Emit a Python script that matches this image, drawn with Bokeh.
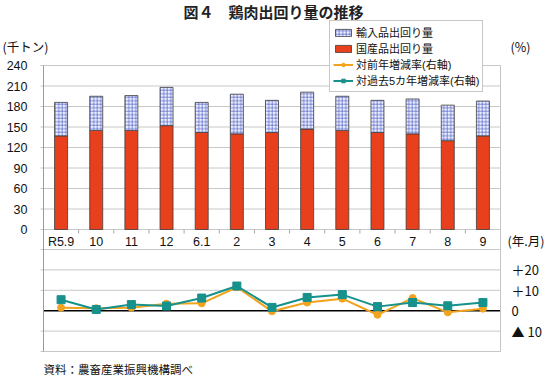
from bokeh.plotting import figure
from bokeh.models import Range1d, ColumnDataSource, Label, Legend, LegendItem
from bokeh.core.properties import value
from bokeh.embed import file_html
from bokeh.resources import INLINE

# ---------------- data ----------------
months = ["R5.9", "10", "11", "12", "6.1", "2", "3", "4", "5", "6", "7", "8", "9"]
domestic = [137, 145, 145, 152, 142, 140, 142, 147, 145, 142, 140, 130, 137]
imported = [49, 50, 51, 56, 44, 58, 47, 54, 50, 47, 51, 52, 51]
yoy_pct = [1.5, 1.2, 1.5, 3.4, 3.6, 11.5, -0.3, 4.0, 5.9, -2.0, 6.2, -0.8, 1.0]
vs5yr_pct = [5.4, 0.6, 3.0, 2.3, 6.2, 12.1, 1.6, 6.5, 7.9, 2.0, 4.0, 2.4, 4.0]
left_ticks = [0, 30, 60, 90, 120, 150, 180, 210, 240]
left_tick_labels = [str(t) for t in left_ticks]
right_ticks = [20, 10, 0, -10]
right_tick_labels = ["＋20", "＋10", "0", "▲ 10"]
pct_grid = [30, 20, 10, -10, -20]

# ---------------- layout (pixels of the 550x376 page) ----------------
W, H = 550, 376
PLOT_L, PLOT_R = 43, 500          # plot area left / right edges
ZERO_PX, TOP_PX = 229, 65         # y of 0 and of 240 (upper chart)
PCT_TOP_PX, PCT_BOT_PX = 249, 351 # y of +30 and -20 (lower chart)

JP = "Noto Sans CJK JP"
NUM = "Liberation Sans"
TXT = "#111111"

n = len(months)
cat_w = (PLOT_R - PLOT_L) / n
k = (ZERO_PX - TOP_PX) / left_ticks[-1]
kp = (PCT_BOT_PX - PCT_TOP_PX) / (pct_grid[0] - pct_grid[-1])
pct_zero_px = PCT_TOP_PX + pct_grid[0] * kp


def dx(px):
    return (px - PLOT_L) / cat_w


def dy(py):
    return (ZERO_PX - py) / k


def dp(py):
    return (pct_zero_px - py) / kp


xs = [i + 0.5 for i in range(n)]
total = [d + m for d, m in zip(domestic, imported)]
src = ColumnDataSource(dict(x=xs, dom=domestic, tot=total, yoy=yoy_pct,
                            five=vs5yr_pct, m=months, ly=[dy(241)] * n))

p = figure(width=W, height=H, x_range=Range1d(dx(0), dx(W)), y_range=Range1d(dy(H), dy(0)),
           output_backend="svg", toolbar_location=None,
           x_axis_location=None, y_axis_location=None, min_border=0)
p.extra_y_ranges = {"pct": Range1d(dp(H), dp(0))}
p.xgrid.visible = False
p.ygrid.visible = False
p.outline_line_color = None
p.background_fill_color = "white"
p.border_fill_color = "white"

tick_out = 3 / cat_w
bottom_main = dy(PCT_BOT_PX)

# ---- upper chart axis: gridlines, ticks, labels ----
nl = len(left_ticks)
p.segment(x0=[-tick_out] * nl, y0=left_ticks, x1=[n] * nl, y1=left_ticks,
          line_color="#c8c8c8", line_width=1)
p.text(x=[dx(27)] * nl, y=left_ticks, text=left_tick_labels, text_align="right",
       text_baseline="middle", text_font=value(NUM), text_font_size="12.5px", text_color=TXT)
tx = list(range(1, n))
p.segment(x0=tx, y0=[0] * len(tx), x1=tx, y1=[dy(ZERO_PX + 4)] * len(tx),
          line_color="#a8a8a8", line_width=1)

# ---- lower chart axis ----
npg = len(pct_grid)
p.segment(x0=[-tick_out] * npg, y0=pct_grid, x1=[n] * npg, y1=pct_grid,
          y_range_name="pct", line_color="#c8c8c8", line_width=1)
p.segment(x0=[0], y0=[0], x1=[n], y1=[0], y_range_name="pct", line_color="black", line_width=1.6)
p.text(x=[dx(511)] * len(right_ticks), y=right_ticks, text=right_tick_labels, y_range_name="pct",
       text_align="left", text_baseline="middle", text_font=value(JP),
       text_font_size="13px", text_color=TXT)

# ---- vertical frame lines ----
p.segment(x0=[0], y0=[bottom_main], x1=[0], y1=[left_ticks[-1]], line_color="#9a9a9a", line_width=1)
p.segment(x0=[n], y0=[bottom_main], x1=[n], y1=[left_ticks[-1]], line_color="#c4c4c4", line_width=1)

# ---- bars ----
r_dom = p.vbar(x="x", bottom=0, top="dom", width=0.37, source=src,
               fill_color="#e8401c", line_color="#3c3c3c", line_width=0.8)
r_imp = p.vbar(x="x", bottom="dom", top="tot", width=0.37, source=src,
               fill_color="#eef0ff", line_color="#3c3c3c", line_width=0.8,
               hatch_pattern="+", hatch_color="#4c60c4", hatch_scale=3.5, hatch_weight=0.7)

# ---- lines ----
r_l1 = p.line("x", "yoy", source=src, y_range_name="pct", line_color="#f2a31d", line_width=2)
r_s1 = p.scatter("x", "yoy", source=src, y_range_name="pct", marker="circle", size=7,
                 fill_color="#f2a31d", line_color="#f2a31d")
r_l2 = p.line("x", "five", source=src, y_range_name="pct", line_color="#17918b", line_width=2)
r_s2 = p.scatter("x", "five", source=src, y_range_name="pct", marker="square", size=8,
                 fill_color="#17918b", line_color="#17918b")

# ---- category labels ----
p.text(x="x", y="ly", text="m", source=src, text_align="center", text_baseline="middle",
       text_font=value(NUM), text_font_size="12.5px", text_color=TXT)

# ---- texts ----
p.add_layout(Label(x=dx(273), y=dy(11), text="図４　鶏肉出回り量の推移", text_align="center",
                   text_baseline="middle", text_font=JP, text_font_size="15px",
                   text_font_style="bold", text_color="#222222"))
p.add_layout(Label(x=dx(2), y=dy(46), text="(千トン)", text_align="left", text_baseline="middle",
                   text_font=JP, text_font_size="12.5px", text_color=TXT))
p.add_layout(Label(x=dx(510), y=dy(46), text="(%)", text_align="left", text_baseline="middle",
                   text_font=JP, text_font_size="12.5px", text_color=TXT))
p.add_layout(Label(x=dx(507), y=dy(240), text="(年.月)", text_align="left", text_baseline="middle",
                   text_font=JP, text_font_size="12.5px", text_color=TXT))
p.add_layout(Label(x=dx(43), y=dy(368), text="資料：農畜産業振興機構調べ", text_align="left",
                   text_baseline="middle", text_font=JP, text_font_size="11.5px", text_color=TXT))

legend = Legend(items=[
    LegendItem(label="輸入品出回り量", renderers=[r_imp]),
    LegendItem(label="国産品出回り量", renderers=[r_dom]),
    LegendItem(label="対前年増減率(右軸)", renderers=[r_l1, r_s1]),
    LegendItem(label="対過去5カ年増減率(右軸)", renderers=[r_l2, r_s2]),
], location=(329, H - 92), orientation="vertical",
    label_text_font="'Liberation Sans', 'Noto Sans CJK JP'", label_text_font_size="11px",
    label_text_color=TXT, label_height=12, glyph_height=9, glyph_width=20, label_standoff=3,
    spacing=0, padding=3, margin=0,
    border_line_color="#909090", border_line_width=1,
    background_fill_color="white", background_fill_alpha=1)
p.add_layout(legend)

open("out.html", "w").write(file_html(p, INLINE))
